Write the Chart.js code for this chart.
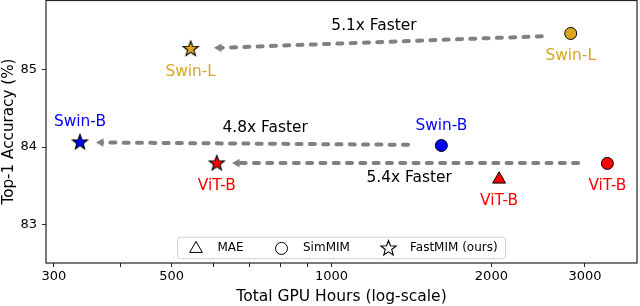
<!DOCTYPE html>
<html>
<head>
<meta charset="utf-8">
<script src="https://cdn.jsdelivr.net/npm/chart.js@4"></script>
<style>
  body { margin: 0; background: #fff; }
  canvas { display: block; }
</style>
</head>
<body>
<canvas id="chart" width="640" height="306"></canvas>
<script>
// --- DONNEES ---
const models = ['Swin-L', 'Swin-B', 'ViT-B'];
const modelColors = ['#daa520', '#0000ff', '#ff0000'];

// GPU hours / top-1 accuracy, one value per model (null = not reported)
const simmimHours = [2821, 1610, 3307];
const simmimAcc = [85.46, 84.02, 83.79];
const fastmimHours = [543, 336, 608];
const fastmimAcc = [85.26, 84.06, 83.79];
const maeHours = [null, null, 2068];
const maeAcc = [null, null, 83.585];

// arrows: tail (baseline) -> head (FastMIM)
const arrowTailHours = [2488, 1393, 2913];
const arrowTailAcc = [85.424, 84.029, 83.794];
const arrowHeadHours = [614, 368, 664];
const arrowHeadAcc = [85.275, 84.059, 83.794];
const speedupLabels = ['5.1x Faster', '4.8x Faster', '5.4x Faster'];
const speedupHours = [1202, 750, 1400];
const speedupAcc = [85.562, 84.248, 83.604];

const xTicks = [300, 400, 500, 600, 700, 800, 900, 1000, 2000, 3000];
const xTickLabels = [300, 500, 1000, 2000, 3000];
const yTicks = [83, 84, 85];

const legendLabels = ['MAE', 'SimMIM', 'FastMIM (ours)'];

const FONT = "'DejaVu Sans', sans-serif";

// etoile a 5 branches (Chart.js n'a pas de vraie etoile pleine)
function makeStar(fill, stroke, R) {
    const size = Math.ceil(R * 2 + 4);
    const c = document.createElement('canvas');
    c.width = size; c.height = size;
    const g = c.getContext('2d');
    drawStar(g, size / 2, size / 2, R, fill, stroke);
    return c;
}
function drawStar(g, cx, cy, R, fill, stroke) {
    const r = R * 0.42;
    g.beginPath();
    for (let i = 0; i < 10; i++) {
        const a = -Math.PI / 2 + i * Math.PI / 5;
        const rr = i % 2 === 0 ? R : r;
        const px = cx + Math.cos(a) * rr, py = cy + Math.sin(a) * rr;
        if (i === 0) g.moveTo(px, py); else g.lineTo(px, py);
    }
    g.closePath();
    g.fillStyle = fill; g.fill();
    g.lineWidth = 1.1; g.strokeStyle = stroke; g.lineJoin = 'miter'; g.stroke();
}

const starImgs = modelColors.map(c => makeStar(c, '#000', 8));

function pts(xs, ys) {
    return xs.map((x, i) => ({ x: x, y: ys[i] }));
}

const datasets = [];

// marqueurs
datasets.push({
    label: 'FastMIM (ours)',
    data: pts(fastmimHours, fastmimAcc),
    pointStyle: starImgs,
    pointRadius: 8,
    order: 0
});
datasets.push({
    label: 'SimMIM',
    data: pts(simmimHours, simmimAcc),
    pointStyle: 'circle',
    pointRadius: 6,
    pointBackgroundColor: modelColors,
    pointBorderColor: '#000',
    pointBorderWidth: 1,
    order: 0
});
datasets.push({
    label: 'MAE',
    data: pts(maeHours, maeAcc).filter(p => p.x !== null),
    pointStyle: 'triangle',
    pointRadius: 7.5,
    pointBackgroundColor: modelColors.filter((c, i) => maeHours[i] !== null),
    pointBorderColor: '#000',
    pointBorderWidth: 1,
    order: 0
});

// fleches en pointilles
arrowTailHours.forEach((h, i) => {
    datasets.push({
        type: 'line',
        label: 'arrow' + i,
        data: [{ x: h, y: arrowTailAcc[i] }, { x: arrowHeadHours[i], y: arrowHeadAcc[i] }],
        showLine: true,
        borderColor: '#808080',
        borderWidth: 4,
        borderDash: [5, 8.3],
        borderCapStyle: 'round',
        pointStyle: 'triangle',
        pointRotation: -90,
        pointRadius: [0, 5],
        pointBackgroundColor: '#808080',
        pointBorderWidth: 0,
        order: 5
    });
});

// textes: noms des modeles et "Nx Faster"
const textPlugin = {
    id: 'texts',
    afterDatasetsDraw(chart) {
        const { ctx, scales: { x, y } } = chart;
        ctx.save();
        ctx.textAlign = 'center';
        ctx.textBaseline = 'middle';
        ctx.font = '15.4px ' + FONT;

        // noms sous / sur les marqueurs
        const place = (hours, acc, dy) => {
            hours.forEach((h, i) => {
                if (h === null) return;
                ctx.fillStyle = modelColors[i];
                ctx.fillText(models[i], x.getPixelForValue(h), y.getPixelForValue(acc[i]) + dy[i]);
            });
        };
        place(fastmimHours, fastmimAcc, [22.5, -20, 22.5]);
        place(simmimHours, simmimAcc, [22.5, -20, 22.5]);
        place(maeHours, maeAcc, [0, 0, 22]);

        ctx.fillStyle = '#000';
        speedupLabels.forEach((t, i) => {
            ctx.fillText(t, x.getPixelForValue(speedupHours[i]), y.getPixelForValue(speedupAcc[i]));
        });
        ctx.restore();
    }
};

// cadre + legende
const framePlugin = {
    id: 'frame',
    afterDraw(chart) {
        const { ctx, chartArea: a } = chart;
        ctx.save();
        ctx.strokeStyle = '#222';
        ctx.lineWidth = 1.2;
        ctx.strokeRect(a.left, a.top + 0.5, a.right - a.left, a.bottom - a.top - 0.5);

        // legende
        const w = 328, h = 21.5;
        const bx = (a.left + a.right) / 2 - w / 2;
        const by = a.bottom - 4.3 - h;
        ctx.beginPath();
        ctx.roundRect(bx, by, w, h, 3);
        ctx.fillStyle = 'rgba(255,255,255,0.85)';
        ctx.fill();
        ctx.strokeStyle = '#d0d0d0';
        ctx.lineWidth = 1;
        ctx.stroke();

        const cy = by + h / 2 + 0.5;
        const mx = [bx + 18.5, bx + 104, bx + 211];
        ctx.strokeStyle = '#000';
        ctx.fillStyle = '#fff';
        ctx.lineWidth = 1;
        // triangle
        ctx.beginPath();
        ctx.moveTo(mx[0], cy - 7);
        ctx.lineTo(mx[0] + 6.3, cy + 4);
        ctx.lineTo(mx[0] - 6.3, cy + 4);
        ctx.closePath();
        ctx.fill(); ctx.stroke();
        // cercle
        ctx.beginPath();
        ctx.arc(mx[1], cy, 6, 0, Math.PI * 2);
        ctx.fill(); ctx.stroke();
        // etoile
        drawStar(ctx, mx[2], cy, 8, '#fff', '#000');

        ctx.fillStyle = '#000';
        ctx.font = '12px ' + FONT;
        ctx.textAlign = 'left';
        ctx.textBaseline = 'middle';
        legendLabels.forEach((t, i) => ctx.fillText(t, mx[i] + 21.5, cy - 0.5));
        ctx.restore();
    }
};

// pas de marge automatique autour de la zone du graphique
function noPad(s) {
    s.paddingLeft = 0; s.paddingRight = 0; s.paddingTop = 0; s.paddingBottom = 0;
}

new Chart(document.getElementById('chart'), {
    type: 'scatter',
    data: { datasets: datasets },
    options: {
        responsive: false,
        animation: false,
        devicePixelRatio: 1,
        layout: { autoPadding: false, padding: { top: 0, right: 3, left: 0, bottom: 0 } },
        plugins: {
            legend: { display: false },
            tooltip: { enabled: false }
        },
        scales: {
            x: {
                type: 'logarithmic',
                min: 290,
                max: 3760,
                afterFit(s) { s.height = 43; noPad(s); },
                afterBuildTicks(s) { s.ticks = xTicks.map(v => ({ value: v })); },
                grid: { drawOnChartArea: false, drawTicks: true, tickLength: 4, color: '#222' },
                border: { display: false },
                ticks: {
                    autoSkip: false,
                    maxRotation: 0,
                    padding: 2,
                    color: '#000',
                    font: { family: FONT, size: 13 },
                    callback: v => xTickLabels.includes(v) ? String(v) : ''
                },
                title: {
                    display: true,
                    text: 'Total GPU Hours (log-scale)',
                    color: '#000',
                    font: { family: FONT, size: 15.5 },
                    padding: 0
                }
            },
            y: {
                min: 82.51,
                max: 85.89,
                afterFit(s) { s.width = 46; noPad(s); },
                afterBuildTicks(s) { s.ticks = yTicks.map(v => ({ value: v })); },
                grid: { drawOnChartArea: false, drawTicks: true, tickLength: 4, color: '#222' },
                border: { display: false },
                ticks: {
                    padding: 5,
                    color: '#000',
                    font: { family: FONT, size: 13 },
                    callback: v => String(v)
                },
                title: {
                    display: true,
                    text: 'Top-1 Accuracy (%)',
                    color: '#000',
                    font: { family: FONT, size: 15.2 },
                    padding: 0
                }
            }
        }
    },
    plugins: [textPlugin, framePlugin]
});
</script>
</body>
</html>
